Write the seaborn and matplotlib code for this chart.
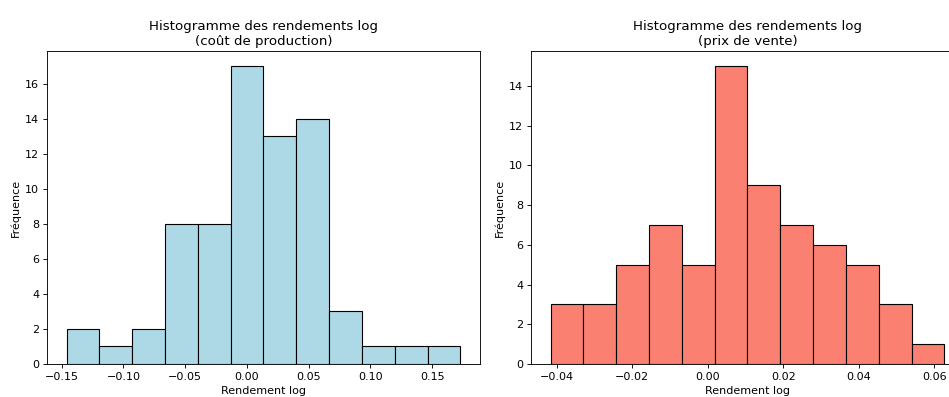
import numpy as np
import pandas as pd
import matplotlib
matplotlib.use("Agg")
import matplotlib.pyplot as plt
import seaborn as sns

# Left histogram: cost of production log returns
cost_start = -0.1459
cost_end = 0.1728
cost_counts = [2, 1, 2, 8, 8, 17, 13, 14, 3, 1, 1, 1]

# Right histogram: selling price log returns
price_start = -0.0416
price_end = 0.0627
price_counts = [3, 3, 5, 7, 5, 15, 9, 7, 6, 5, 3, 1]

titles = ["Histogramme des rendements log\n(coût de production)",
          "Histogramme des rendements log\n(prix de vente)"]

DPI = 80
fig = plt.figure(figsize=(949 / DPI, 397 / DPI), dpi=DPI)
ax1 = fig.add_axes([0.0495, 0.0831, 0.4563, 0.7877])
ax2 = fig.add_axes([0.5595, 0.0831, 0.4563, 0.7877])

def draw(ax, start, end, counts, color, title):
    n = len(counts)
    width = (end - start) / n
    centers = start + width * (np.arange(n) + 0.5)
    df = pd.DataFrame({"x": centers, "w": counts})
    sns.histplot(data=df, x="x", weights="w", bins=n, binrange=(start, end),
                 color=color, edgecolor="black", alpha=1, linewidth=1, ax=ax)
    ax.set_title(title)
    ax.set_xlabel("Rendement log")
    ax.set_ylabel("Fréquence")

draw(ax1, cost_start, cost_end, cost_counts, "lightblue", titles[0])
draw(ax2, price_start, price_end, price_counts, "salmon", titles[1])
ax1.set_xticks([-0.15, -0.10, -0.05, 0.00, 0.05, 0.10, 0.15])
ax2.set_xticks([-0.04, -0.02, 0.00, 0.02, 0.04, 0.06])

fig.savefig("out.png", dpi=DPI)
